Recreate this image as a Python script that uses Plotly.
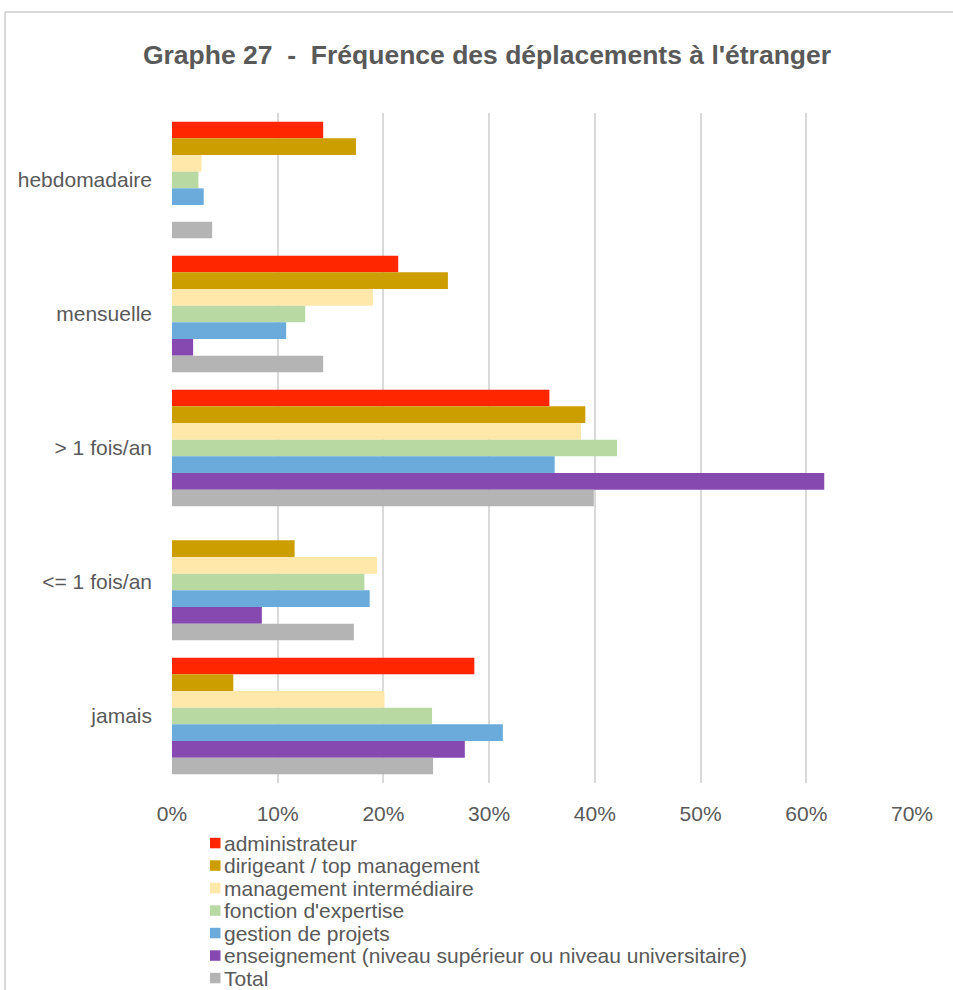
import plotly.graph_objects as go

categories = ["hebdomadaire", "mensuelle", "> 1 fois/an", "<= 1 fois/an", "jamais"]
series_names = [
    "administrateur",
    "dirigeant / top management",
    "management intermédiaire",
    "fonction d'expertise",
    "gestion de projets",
    "enseignement (niveau supérieur ou niveau universitaire)",
    "Total",
]
administrateur = [14.3, 21.4, 35.7, None, 28.6]
dirigeant = [17.4, 26.1, 39.1, 11.6, 5.8]
management = [2.8, 19.0, 38.7, 19.4, 20.1]
expertise = [2.5, 12.6, 42.1, 18.2, 24.6]
gestion = [3.0, 10.8, 36.2, 18.7, 31.3]
enseignement = [None, 2.0, 61.7, 8.5, 27.7]
total = [3.8, 14.3, 39.9, 17.2, 24.7]
series_values = [administrateur, dirigeant, management, expertise, gestion, enseignement, total]
colors = ["#FF2600", "#CC9E00", "#FFE8AA", "#B8D9A2", "#6BABDB", "#8649AF", "#B4B4B4"]
tick_vals = [0, 10, 20, 30, 40, 50, 60, 70]
tick_text = ["0%", "10%", "20%", "30%", "40%", "50%", "60%", "70%"]

W, H = 953, 990
L, R, T, B = 172, 41, 113, 207
pw, ph = W - L - R, H - T - B

def px_x(x):
    return (x - L) / pw

def px_y(y):
    return (H - B - y) / ph

fig = go.Figure()
for name, vals, col in zip(series_names, series_values, colors):
    fig.add_trace(go.Bar(
        y=categories, x=vals, name=name, orientation="h",
        marker=dict(color=col, line=dict(width=0)),
        showlegend=False,
    ))

grey = "#595959"
fig.update_layout(
    width=W, height=H,
    margin=dict(l=L, r=R, t=T, b=B),
    paper_bgcolor="white", plot_bgcolor="white",
    barmode="group", bargap=0.13, bargroupgap=0,
    font=dict(family="Liberation Sans, Arial", color=grey, size=21),
    title=dict(text="<b>Graphe 27  -  Fréquence des déplacements à l'étranger</b>",
               x=487 / W, xanchor="center", y=1 - 55 / H, yanchor="middle",
               font=dict(size=26.5, color=grey)),
    xaxis=dict(range=[0, 70], tickvals=tick_vals, ticktext=tick_text,
               showgrid=True, gridcolor="#D9D9D9", gridwidth=2,
               zeroline=False, showline=False, ticks="",
               tickfont=dict(size=21, color=grey), ticklabelstandoff=16),
    yaxis=dict(categoryorder="array", categoryarray=categories, autorange="reversed",
               showgrid=False, zeroline=False, showline=False, ticks="",
               tickfont=dict(size=21, color=grey), ticklabelstandoff=19),
    showlegend=False,
)

# manual legend (text + colour swatch), stacked below the plot
legend_y0 = 843.3
legend_step = 22.5
for i, (name, col) in enumerate(zip(series_names, colors)):
    yc = legend_y0 + i * legend_step
    fig.add_shape(type="rect", xref="paper", yref="paper",
                  x0=px_x(210), x1=px_x(220.5), y0=px_y(yc - 5.5), y1=px_y(yc + 5),
                  fillcolor=col, line=dict(width=0))
    fig.add_annotation(text=name, xref="paper", yref="paper",
                       x=px_x(222), y=px_y(yc), xanchor="left", yanchor="middle",
                       showarrow=False, font=dict(size=21, color=grey))

# outer chart border (top and left visible)
fig.add_shape(type="line", xref="paper", yref="paper",
              x0=px_x(5), x1=px_x(960), y0=px_y(12), y1=px_y(12),
              line=dict(color="#D9D9D9", width=2))
fig.add_shape(type="line", xref="paper", yref="paper",
              x0=px_x(5), x1=px_x(5), y0=px_y(12), y1=px_y(1000),
              line=dict(color="#D9D9D9", width=2))

fig.write_html("out.html", config={"displayModeBar": False},
               post_script="document.body.style.margin='0px';")
